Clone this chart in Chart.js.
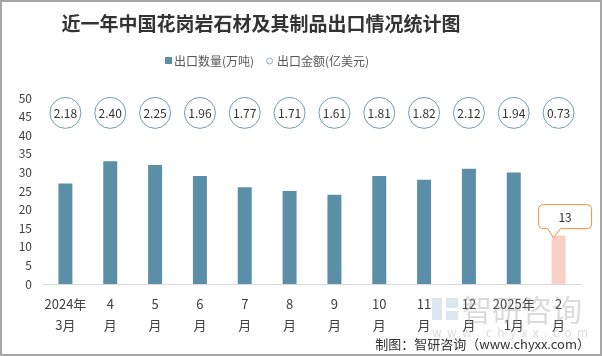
<!DOCTYPE html>
<html><head><meta charset="utf-8">
<script src="https://cdn.jsdelivr.net/npm/chart.js@4"></script>
<style>html,body{margin:0;padding:0;background:#fff;}canvas{display:block;}</style>
</head><body>
<canvas id="c" width="602" height="356"></canvas>
<script>
const categories = [['2024年','3月'],['4','月'],['5','月'],['6','月'],['7','月'],['8','月'],['9','月'],['10','月'],['11','月'],['12','月'],['2025年','1月'],['2','月']];
const exportVolume = [27,33,32,29,26,25,24,29,28,31,30,13];   // 出口数量(万吨)
const exportValue = [2.18,2.40,2.25,1.96,1.77,1.71,1.61,1.81,1.82,2.12,1.94,0.73]; // 出口金额(亿美元)
const yMax = 50, yStep = 5;
const circleRowValue = 46; // row where the amount circles sit

const TEAL = '#5b8fa8', PINK = '#f9d0c7', ORANGE = '#ee9040';
const FONT = '"Noto Sans CJK SC", "Noto Sans", sans-serif';
const lastIdx = exportVolume.length - 1;

const deco = {
  id: 'deco',
  afterDatasetsDraw(chart) {
    const ctx = chart.ctx;
    const xs = chart.scales.x, ys = chart.scales.y;
    ctx.save();
    // title
    ctx.fillStyle = '#333';
    ctx.font = 'bold 19px ' + FONT;
    ctx.textAlign = 'center'; ctx.textBaseline = 'middle';
    ctx.fillText('近一年中国花岗岩石材及其制品出口情况统计图', 261, 24);
    // legend
    ctx.font = '12px ' + FONT;
    ctx.textAlign = 'left';
    ctx.fillStyle = TEAL;
    ctx.fillRect(165, 57, 7, 7);
    ctx.fillStyle = '#595959';
    ctx.fillText('出口数量(万吨)', 174, 61);
    ctx.beginPath(); ctx.arc(269.5, 61, 3, 0, Math.PI*2);
    ctx.strokeStyle = '#8fb0c0'; ctx.lineWidth = 1; ctx.stroke();
    ctx.fillText('出口金额(亿美元)', 277, 61);
    // circles with amounts
    const cy = ys.getPixelForValue(circleRowValue);
    ctx.font = '12px ' + FONT;
    ctx.textAlign = 'center';
    exportValue.forEach((v, i) => {
      const cx = xs.getPixelForValue(i);
      ctx.beginPath(); ctx.arc(cx, cy, 15.5, 0, Math.PI*2);
      ctx.fillStyle = '#fff'; ctx.fill();
      ctx.strokeStyle = '#6f9cb3'; ctx.lineWidth = 1; ctx.stroke();
      ctx.fillStyle = '#333';
      ctx.fillText(v.toFixed(2), cx, cy + 1);
    });
    // callout for last bar
    const bar = chart.getDatasetMeta(0).data[lastIdx];
    const bx = bar.x, by = bar.y;
    const L = bx - 20, R = bx + 33, B = by - 7, T = B - 24, r = 5;
    ctx.beginPath();
    ctx.moveTo(L + r, T);
    ctx.lineTo(R - r, T); ctx.quadraticCurveTo(R, T, R, T + r);
    ctx.lineTo(R, B - r); ctx.quadraticCurveTo(R, B, R - r, B);
    ctx.lineTo(bx + 2, B); ctx.lineTo(bx - 5, by + 2); ctx.lineTo(bx - 11, B);
    ctx.lineTo(L + r, B); ctx.quadraticCurveTo(L, B, L, B - r);
    ctx.lineTo(L, T + r); ctx.quadraticCurveTo(L, T, L + r, T);
    ctx.closePath();
    ctx.fillStyle = '#fff'; ctx.fill();
    ctx.strokeStyle = ORANGE; ctx.lineWidth = 1; ctx.stroke();
    ctx.fillStyle = '#333'; ctx.font = '12px ' + FONT;
    ctx.fillText(String(exportVolume[lastIdx]), (L + R) / 2, (T + B) / 2 + 1);
    // watermark
    ctx.globalAlpha = 0.35;
    ctx.fillStyle = '#9ab8d0';
    ctx.fillRect(432, 298, 10, 22); ctx.fillRect(446, 298, 12, 10); ctx.fillRect(446, 311, 12, 9);
    ctx.fillStyle = '#999';
    ctx.font = '30px ' + FONT; ctx.textAlign = 'left';
    ctx.fillText('智研咨询', 462, 310);
    ctx.font = '12px ' + FONT;
    ctx.fillText('w  w  w  .  c  h  y  x  x  .  c  o  m', 432, 332);
    ctx.globalAlpha = 1;
    // footer
    ctx.fillStyle = '#333'; ctx.font = '13px ' + FONT; ctx.textAlign = 'right';
    ctx.fillText('制图：智研咨询（www.chyxx.com）', 590, 344);
    // border
    ctx.strokeStyle = '#a6a6a6'; ctx.lineWidth = 2;
    ctx.strokeRect(1, 1, 600, 354);
    ctx.restore();
  }
};

new Chart(document.getElementById('c'), {
  type: 'bar',
  data: {
    labels: categories,
    datasets: [{
      label: '出口数量(万吨)',
      data: exportVolume,
      backgroundColor: ctx => ctx.dataIndex === lastIdx ? PINK : TEAL,
      barPercentage: 0.39,
      categoryPercentage: 0.8
    }]
  },
  options: {
    responsive: false,
    animation: false,
    layout: { padding: { left: 0, right: 21, top: 98, bottom: 0 } },
    plugins: { legend: { display: false }, title: { display: false }, tooltip: { enabled: false } },
    scales: {
      x: {
        grid: { display: false, drawTicks: false },
        border: { display: true, color: '#d9d9d9', width: 1 },
        ticks: { color: '#404040', font: { family: FONT, size: 13, lineHeight: 1.6 }, padding: 10, maxRotation: 0, autoSkip: false },
        afterFit: s => { s.height = 72; }
      },
      y: {
        min: 0, max: yMax,
        grid: { display: false, drawTicks: false },
        border: { display: false },
        ticks: { stepSize: yStep, color: '#404040', font: { family: FONT, size: 12 }, padding: 11 },
        afterFit: s => { s.width = 43; }
      }
    }
  },
  plugins: [deco]
});
</script>
</body></html>
